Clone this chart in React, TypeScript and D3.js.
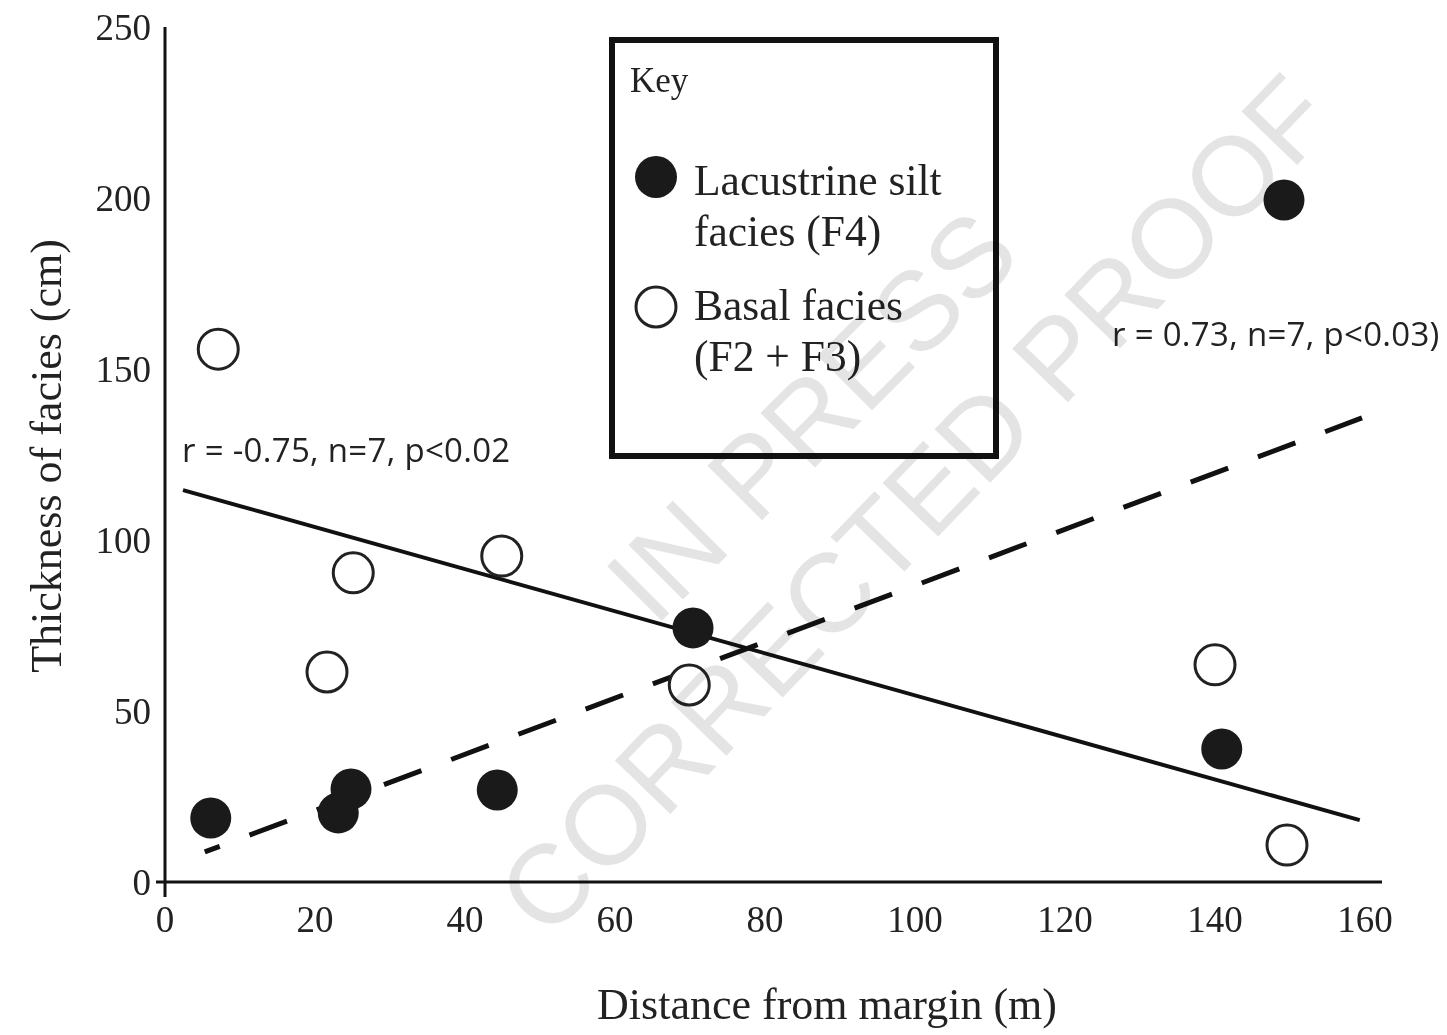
import React from "react";
import * as d3 from "d3";

// ---- data ----
const lacustrineX = [6.1, 23.1, 24.8, 44.3, 70.4, 140.9, 149.2];
const lacustrineY = [18.7, 20.2, 27.2, 26.9, 74.3, 38.9, 199.4];
const basalX = [7.1, 25.1, 21.6, 44.9, 69.9, 140.0, 149.6];
const basalY = [155.8, 90.4, 61.4, 95.3, 57.6, 63.5, 10.8];
const solidFit = [[2.4, 114.6], [159.3, 18.1]];
const dashedFit = [[5.3, 8.8], [159.6, 135.7]];
const xTicks = [0, 20, 40, 60, 80, 100, 120, 140, 160];
const yTicks = [0, 50, 100, 150, 200, 250];
const solidLabel = "r = -0.75, n=7, p<0.02";
const dashedLabel = "r = 0.73, n=7, p<0.03)";
const legendItems = [
  { filled: true, lines: ["Lacustrine silt", "facies (F4)"] },
  { filled: false, lines: ["Basal facies", "(F2 + F3)"] },
];

const W = 1447;
const H = 1035;
const serif = "'Liberation Serif', 'Times New Roman', serif";
const sans = "'Open Sans', 'Noto Sans', sans-serif";

export default function App() {
  const x = d3.scaleLinear().domain([0, 160]).range([165, 1365]);
  const y = d3.scaleLinear().domain([0, 250]).range([882, 27]);
  const line = d3
    .line<number[]>()
    .x((d) => x(d[0]))
    .y((d) => y(d[1]));

  return (
    <svg
      width={W}
      height={H}
      viewBox={`0 0 ${W} ${H}`}
      style={{ position: "absolute", left: 0, top: 0, background: "#fff" }}
    >
      <rect x={0} y={0} width={W} height={H} fill="#fff" />
      {/* axes */}
      <line x1={x(0)} x2={x(0)} y1={y(250)} y2={897} stroke="#111" strokeWidth={3} />
      <line x1={156} x2={1382} y1={y(0)} y2={y(0)} stroke="#111" strokeWidth={3} />
      {yTicks.map((t) => (
        <text
          key={"y" + t}
          x={151}
          y={y(t) + 13}
          textAnchor="end"
          fontFamily={serif}
          fontSize={37}
          fill="#222"
        >
          {t}
        </text>
      ))}
      {xTicks.map((t) => (
        <text
          key={"x" + t}
          x={x(t)}
          y={932}
          textAnchor="middle"
          fontFamily={serif}
          fontSize={37}
          fill="#222"
        >
          {t}
        </text>
      ))}
      <text
        transform={`translate(61, 456) rotate(-90)`}
        textAnchor="middle"
        fontFamily={serif}
        fontSize={44}
        fill="#222"
      >
        Thickness of facies (cm)
      </text>
      <text x={827} y={1019} textAnchor="middle" fontFamily={serif} fontSize={44} fill="#222">
        Distance from margin (m)
      </text>

      {/* fit lines */}
      <path d={line(solidFit) || ""} stroke="#111" strokeWidth={4} fill="none" />
      <path
        d={line(dashedFit) || ""}
        stroke="#111"
        strokeWidth={5}
        fill="none"
        strokeDasharray="40 31.8"
        strokeDashoffset={24}
      />

      {/* points */}
      {basalX.map((v, i) => (
        <circle
          key={"b" + i}
          cx={x(v)}
          cy={y(basalY[i])}
          r={20}
          fill="#fff"
          stroke="#222"
          strokeWidth={3}
        />
      ))}
      {lacustrineX.map((v, i) => (
        <circle key={"l" + i} cx={x(v)} cy={y(lacustrineY[i])} r={20.5} fill="#1a1a1a" />
      ))}

      {/* annotations */}
      <text x={182} y={462} fontFamily={sans} fontSize={33} letterSpacing={0.3} fill="#222">
        {solidLabel}
      </text>
      <text x={1112} y={346} fontFamily={sans} fontSize={33} letterSpacing={0.3} fill="#222">
        {dashedLabel}
      </text>

      {/* legend */}
      <rect x={612} y={40} width={384} height={416} fill="#fff" stroke="#111" strokeWidth={6} />
      <text x={630} y={92} fontFamily={serif} fontSize={35} fill="#222">
        Key
      </text>
      {legendItems.map((it, i) => (
        <g key={"lg" + i}>
          <circle
            cx={656}
            cy={177 + i * 130}
            r={it.filled ? 21 : 20}
            fill={it.filled ? "#1a1a1a" : "#fff"}
            stroke={it.filled ? "none" : "#222"}
            strokeWidth={3}
          />
          {it.lines.map((ln, j) => (
            <text
              key={j}
              x={694}
              y={195 + i * 125 + j * 51}
              fontFamily={serif}
              fontSize={43.5}
              fill="#222"
            >
              {ln}
            </text>
          ))}
        </g>
      ))}

      {/* watermark */}
      <g
        fontFamily="'Liberation Sans', Arial, sans-serif"
        fontSize={112}
        fill="#e4e4e4"
        textAnchor="middle"
        dominantBaseline="central"
        style={{ mixBlendMode: "multiply" }}
      >
        <text transform="translate(812,416) rotate(-45)">IN PRESS</text>
        <text transform="translate(915,505) rotate(-46)">CORRECTED PROOF</text>
      </g>
    </svg>
  );
}
